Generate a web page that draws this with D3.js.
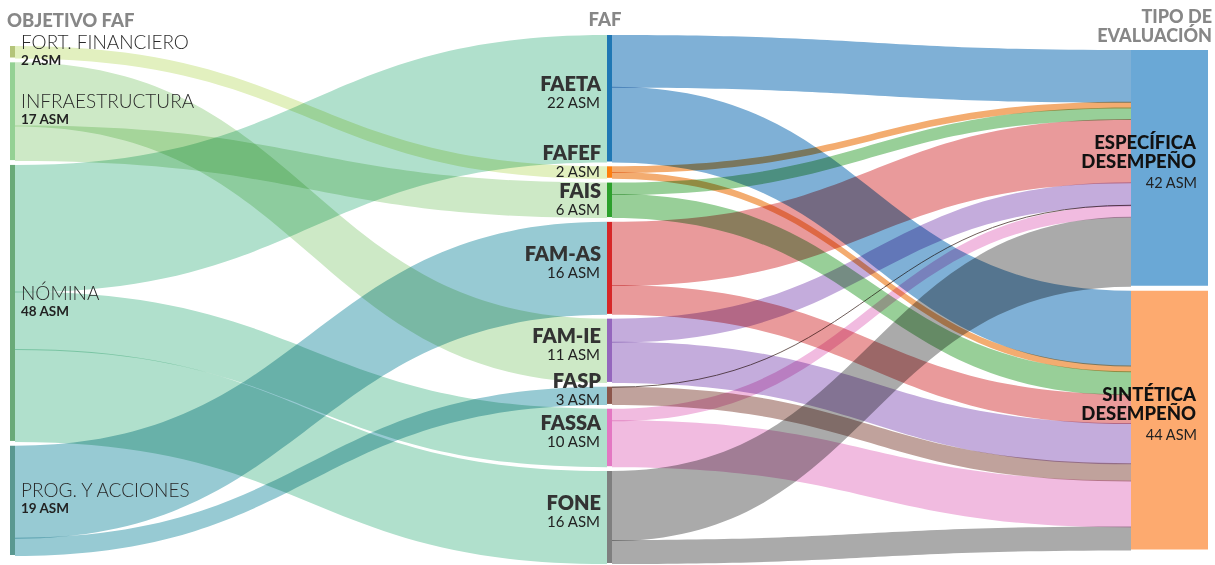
<!DOCTYPE html>
<html><head><meta charset="utf-8">
<script src="https://cdn.jsdelivr.net/npm/d3@7"></script>
<style>
html,body{margin:0;padding:0;background:#fff;}
svg{display:block;font-family:Lato,"Open Sans","Noto Sans",sans-serif;}
</style></head><body>
<svg id="chart" width="1215" height="565"></svg>
<script>
// ---------- DATA ----------
const leftNodes   = ["FORT. FINANCIERO", "INFRAESTRUCTURA", "NÓMINA", "PROG. Y ACCIONES"];
const leftLabels  = ["2 ASM", "17 ASM", "48 ASM", "19 ASM"];
const midNodes    = ["FAETA", "FAFEF", "FAIS", "FAM-AS", "FAM-IE", "FASP", "FASSA", "FONE"];
const midLabels   = ["22 ASM", "2 ASM", "6 ASM", "16 ASM", "11 ASM", "3 ASM", "10 ASM", "16 ASM"];
const rightNodes  = ["ESPECÍFICA DESEMPEÑO", "SINTÉTICA DESEMPEÑO"];
const rightLabels = ["42 ASM", "44 ASM"];
const columnTitles = ["OBJETIVO FAF", "FAF", "TIPO DE EVALUACIÓN"];

// objective -> FAF (order of rows = stacking order at the source)
const flow1Source = ["FORT. FINANCIERO", "INFRAESTRUCTURA", "INFRAESTRUCTURA", "NÓMINA", "NÓMINA", "NÓMINA", "PROG. Y ACCIONES", "PROG. Y ACCIONES"];
const flow1Target = ["FAFEF", "FAM-IE", "FAIS", "FAETA", "FASSA", "FONE", "FAM-AS", "FASP"];
const flow1Value  = [2, 11, 6, 22, 10, 16, 16, 3];

// FAF -> tipo de evaluación
const toEspecifica = [9, 1, 2, 11, 4, 0, 2, 12];   // per midNodes
const toSintetica  = [13, 1, 4, 5, 7, 3, 8, 4];    // per midNodes

// ---------- STYLE ----------
const leftNodeColors = ["#b4c47a", "#94d194", "#6aaa78", "#5a9890"];
const leftLinkColors = ["#e2f0bf", "#cde9c6", "#b0e0cc", "#97cad3"];
const midNodeColors  = d3.schemeCategory10.slice(0, 8);
const midLinkColors  = ["#7fb0d6", "#f3ac70", "#98cf98", "#e99a9b", "#c4acdc", "#c0a29c", "#f1bbe0", "#aaaaaa"];
const rightNodeColors = ["#6aa8d6", "#fdaa6f"];

const svg = d3.select("#chart");
const W = 1215, H = 565;
svg.append("rect").attr("width", W).attr("height", H).attr("fill", "#fff");

const totalUnits = d3.sum(flow1Value);
const h = d3.scaleLinear().domain([0, totalUnits]).range([0, 494.5]);

const cols = [
  {x0: 10,   x1: 15,   top: 46, bottom: 555},
  {x0: 607,  x1: 612,  top: 35, bottom: 563},
  {x0: 1131, x1: 1208, top: 50, bottom: 549.5}
];

// build nodes
const nodes = [];
const byName = {};
function addNode(name, col, i, color, label) {
  const n = {name, col, i, color, label, inL: [], outL: []};
  nodes.push(n); byName[name] = n; return n;
}
leftNodes.forEach((d, i) => addNode(d, 0, i, leftNodeColors[i], leftLabels[i]));
midNodes.forEach((d, i) => addNode(d, 1, i, midNodeColors[i], midLabels[i]));
rightNodes.forEach((d, i) => addNode(d, 2, i, rightNodeColors[i], rightLabels[i]));

// build links
const links = [];
flow1Source.forEach((s, i) => {
  links.push({source: byName[s], target: byName[flow1Target[i]], value: flow1Value[i],
              color: leftLinkColors[leftNodes.indexOf(s)], order: links.length});
});
midNodes.forEach((m, i) => {
  [[rightNodes[0], toEspecifica[i]], [rightNodes[1], toSintetica[i]]].forEach(([t, v]) => {
    links.push({source: byName[m], target: byName[t], value: v, color: midLinkColors[i], order: links.length});
  });
});
links.forEach(l => { l.source.outL.push(l); l.target.inL.push(l); });
nodes.forEach(n => { n.value = Math.max(d3.sum(n.inL, l => l.value), d3.sum(n.outL, l => l.value)); });

// vertical layout per column
[0, 1, 2].forEach(c => {
  const colNodes = nodes.filter(n => n.col === c);
  const sumH = d3.sum(colNodes, n => h(n.value));
  const pad = (cols[c].bottom - cols[c].top - sumH) / (colNodes.length - 1);
  let y = cols[c].top;
  colNodes.forEach(n => {
    n.x0 = cols[c].x0; n.x1 = cols[c].x1;
    n.y0 = y; n.y1 = y + h(n.value); y = n.y1 + pad;
  });
});
// stack links
nodes.forEach(n => {
  let y = n.y0;
  n.outL.forEach(l => { l.sy = y; y += h(l.value); });
  let yt = n.y0;
  n.inL.slice().sort((a, b) => (a.source.y0 - b.source.y0) || (a.order - b.order))
    .forEach(l => { l.ty = yt; yt += h(l.value); });
});

// ---------- DRAW LINKS ----------
function band(l) {
  const x0 = l.source.x1, x1 = l.target.x0, xm = (x0 + x1) / 2, w = h(l.value) + 1;
  return `M${x0},${l.sy}C${xm},${l.sy} ${xm},${l.ty} ${x1},${l.ty}` +
         `L${x1},${l.ty + w}C${xm},${l.ty + w} ${xm},${l.sy + w} ${x0},${l.sy + w}Z`;
}
const linkG = svg.append("g");
linkG.selectAll("path.band").data(links.filter(l => l.value > 0)).join("path")
  .attr("class", "band")
  .attr("d", band)
  .attr("fill", d => d.color)
  .style("mix-blend-mode", "multiply");
const thin = d3.linkHorizontal().x(d => d[0]).y(d => d[1]);
linkG.selectAll("path.thin").data(links.filter(l => l.value === 0)).join("path")
  .attr("class", "thin")
  .attr("d", l => thin({source: [l.source.x1, l.sy + 0.5], target: [l.target.x0, l.ty]}))
  .attr("fill", "none")
  .attr("stroke", d => d3.color(d.color).darker(1.5))
  .attr("stroke-width", 1)
  .style("mix-blend-mode", "multiply");

// ---------- NODES ----------
svg.append("g").selectAll("rect").data(nodes).join("rect")
  .attr("x", d => d.x0).attr("y", d => d.y0)
  .attr("width", d => d.x1 - d.x0).attr("height", d => d.y1 - d.y0)
  .attr("fill", d => d.color);

// ---------- LABELS ----------
const lab = svg.append("g");
nodes.filter(n => n.col === 0).forEach(n => {
  const c = (n.y0 + n.y1) / 2;
  lab.append("text").attr("x", 21).attr("y", c - 3)
    .attr("font-size", 19).attr("font-weight", 300).attr("fill", "#2a2a2a").text(n.name);
  lab.append("text").attr("x", 21).attr("y", c + 13)
    .attr("font-size", 13.5).attr("font-weight", 700).attr("fill", "#222").text(n.label);
});

// middle labels: centred on node, then dodged so that blocks do not collide
const midN = nodes.filter(n => n.col === 1);
const minGap = 38;
midN.forEach(n => { n.ly = (n.y0 + n.y1) / 2 - 7; });
for (let iter = 0; iter < 50; iter++) {
  for (let i = 1; i < midN.length; i++) {
    const a = midN[i - 1], b = midN[i], d = b.ly - a.ly;
    if (d < minGap) { const s = (minGap - d) / 2; a.ly -= s; b.ly += s; }
  }
}
midN.forEach(n => {
  lab.append("text").attr("x", 601).attr("y", n.ly).attr("text-anchor", "end")
    .attr("font-size", 20).attr("font-weight", 800).attr("fill", "#333").text(n.name);
  lab.append("text").attr("x", 600).attr("y", n.ly + 17).attr("text-anchor", "end")
    .attr("font-size", 15).attr("font-weight", 400).attr("fill", "#222").text(n.label);
});

nodes.filter(n => n.col === 2).forEach(n => {
  const c = (n.y0 + n.y1) / 2;
  const words = n.name.split(" ");
  words.forEach((w, i) => {
    lab.append("text").attr("x", 1196).attr("y", c - 19 + i * 19).attr("text-anchor", "end")
      .attr("font-size", 18.5).attr("font-weight", 900).attr("fill", "#111").text(w);
  });
  lab.append("text").attr("x", 1197).attr("y", c - 19 + (words.length - 1) * 19 + 20).attr("text-anchor", "end")
    .attr("font-size", 14.5).attr("font-weight", 400).attr("fill", "#222").text(n.label);
});

// column titles
const tcol = "#878787";
svg.append("text").attr("x", 7).attr("y", 27).attr("font-size", 18.5).attr("font-weight", 900)
  .attr("fill", tcol).text(columnTitles[0]);
svg.append("text").attr("x", 605).attr("y", 26).attr("text-anchor", "middle").attr("font-size", 18.5)
  .attr("font-weight", 900).attr("fill", tcol).text(columnTitles[1]);
const t3 = columnTitles[2].split(" ");
svg.append("text").attr("x", 1212).attr("y", 23).attr("text-anchor", "end").attr("font-size", 18)
  .attr("font-weight", 900).attr("fill", tcol).text(t3.slice(0, 2).join(" "));
svg.append("text").attr("x", 1212).attr("y", 42).attr("text-anchor", "end").attr("font-size", 18)
  .attr("font-weight", 900).attr("fill", tcol).text(t3.slice(2).join(" "));
</script>
</body></html>
